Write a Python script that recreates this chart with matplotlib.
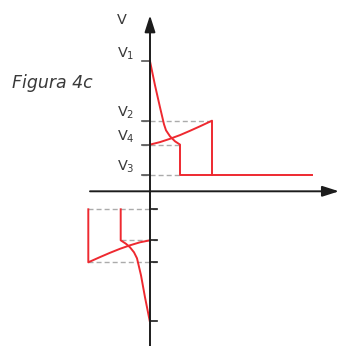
import numpy as np
import matplotlib
matplotlib.use("Agg")
import matplotlib.pyplot as plt

plt.rcParams["mathtext.default"] = "regular"

# voltage levels (upper branch) and switching times, in grid units
v_levels = {"V$_1$": 13.0, "V$_2$": 7.06, "V$_4$": 4.67, "V$_3$": 1.63}
t_switch_a = 3.0
t_switch_b = 6.2
t_end = 16.2

# decay from V1 down to V4
decay_t = [0.0, 0.5, 1.0, 1.4, 1.6, 2.0, 2.5, 3.0]
decay_v = [13.0, 10.6, 8.4, 6.7, 6.1, 5.5, 5.0, 4.67]

# rise from V4 up to V2
rise_t = [0.0, 1.0, 2.0, 3.0, 4.0, 5.0, 6.2]
rise_v = [4.67, 4.92, 5.25, 5.62, 6.05, 6.5, 7.06]

# lower (negative) branch
low_levels = [-1.8, -4.9, -7.1, -12.95]
low_switch_a = -2.93
low_switch_b = -6.17
low_decay_t = [-2.93, -2.4, -2.0, -1.6, -1.3, -0.9, -0.5, -0.03]
low_decay_v = [-4.9, -5.25, -5.6, -6.1, -6.7, -8.4, -10.6, -12.95]
low_rise_t = [-6.17, -5.0, -4.0, -3.0, -2.0, -1.0, 0.0]
low_rise_v = [-7.1, -6.58, -6.15, -5.75, -5.4, -5.1, -4.9]

RED = "#ee2930"
GREY = "#ababab"
INK = "#1c1c1c"
TXT = "#3a3a3a"
LW = 1.4

fig = plt.figure(figsize=(3.41, 3.46), dpi=100)
ax = fig.add_axes([0, 0, 1, 1])
ax.set_xlim(-15.0, 19.1)
ax.set_ylim(-15.47, 19.13)
ax.axis("off")

dash = dict(color=GREY, lw=1.0, ls=(0, (3.6, 2.2)), zorder=1)

# dashed guides for the upper levels
ax.plot([-0.83, t_switch_b], [v_levels["V$_2$"]] * 2, **dash)
ax.plot([-0.83, t_switch_a], [v_levels["V$_4$"]] * 2, **dash)
ax.plot([-0.83, t_switch_a], [v_levels["V$_3$"]] * 2, **dash)
# dashed guides for the lower levels
ax.plot([low_switch_b, 0.73], [low_levels[0]] * 2, **dash)
ax.plot([low_switch_a, 0.73], [low_levels[1]] * 2, **dash)
ax.plot([low_switch_b, 0.73], [low_levels[2]] * 2, **dash)

# upper curves
ax.plot(decay_t + [t_switch_a, t_switch_a, t_end],
        decay_v + [v_levels["V$_3$"], v_levels["V$_3$"], v_levels["V$_3$"]],
        color=RED, lw=LW, zorder=3)
ax.plot(rise_t + [t_switch_b], rise_v + [v_levels["V$_3$"]],
        color=RED, lw=LW, zorder=3)

# lower curves
ax.plot([low_switch_a] + low_decay_t, [low_levels[0]] + low_decay_v,
        color=RED, lw=LW, zorder=3)
ax.plot([low_switch_b] + low_rise_t, [low_levels[0]] + low_rise_v,
        color=RED, lw=LW, zorder=3)

# axes with arrowheads
arrow = dict(arrowstyle="-|>,head_length=0.5,head_width=0.16",
             color=INK, lw=LW, shrinkA=0, shrinkB=0, mutation_scale=20)
ax.annotate("", xy=(18.9, 0), xytext=(-6.0, 0), arrowprops=arrow, zorder=4)
ax.annotate("", xy=(0, 17.6), xytext=(0, -15.5), arrowprops=arrow, zorder=4)

# tick marks
for name, v in v_levels.items():
    ax.plot([-0.83, 0], [v, v], color="#555555", lw=1.2, zorder=2)
    ax.annotate(name, xy=(0, v), xytext=(-33, 4), textcoords="offset pixels",
                ha="left", va="baseline", fontsize=10.4, color=TXT)
for v in low_levels:
    ax.plot([0, 0.73], [v, v], color=INK, lw=1.2, zorder=2)

ax.text(-2.83, 17.13, "V", ha="center", va="center", fontsize=10.4, color=TXT)
fig.text(11.7 / 341, 1 - 87.7 / 346, "Figura 4c", ha="left", va="baseline",
         fontsize=12.5, style="italic", color=TXT)

fig.savefig("out.png", dpi=100)
